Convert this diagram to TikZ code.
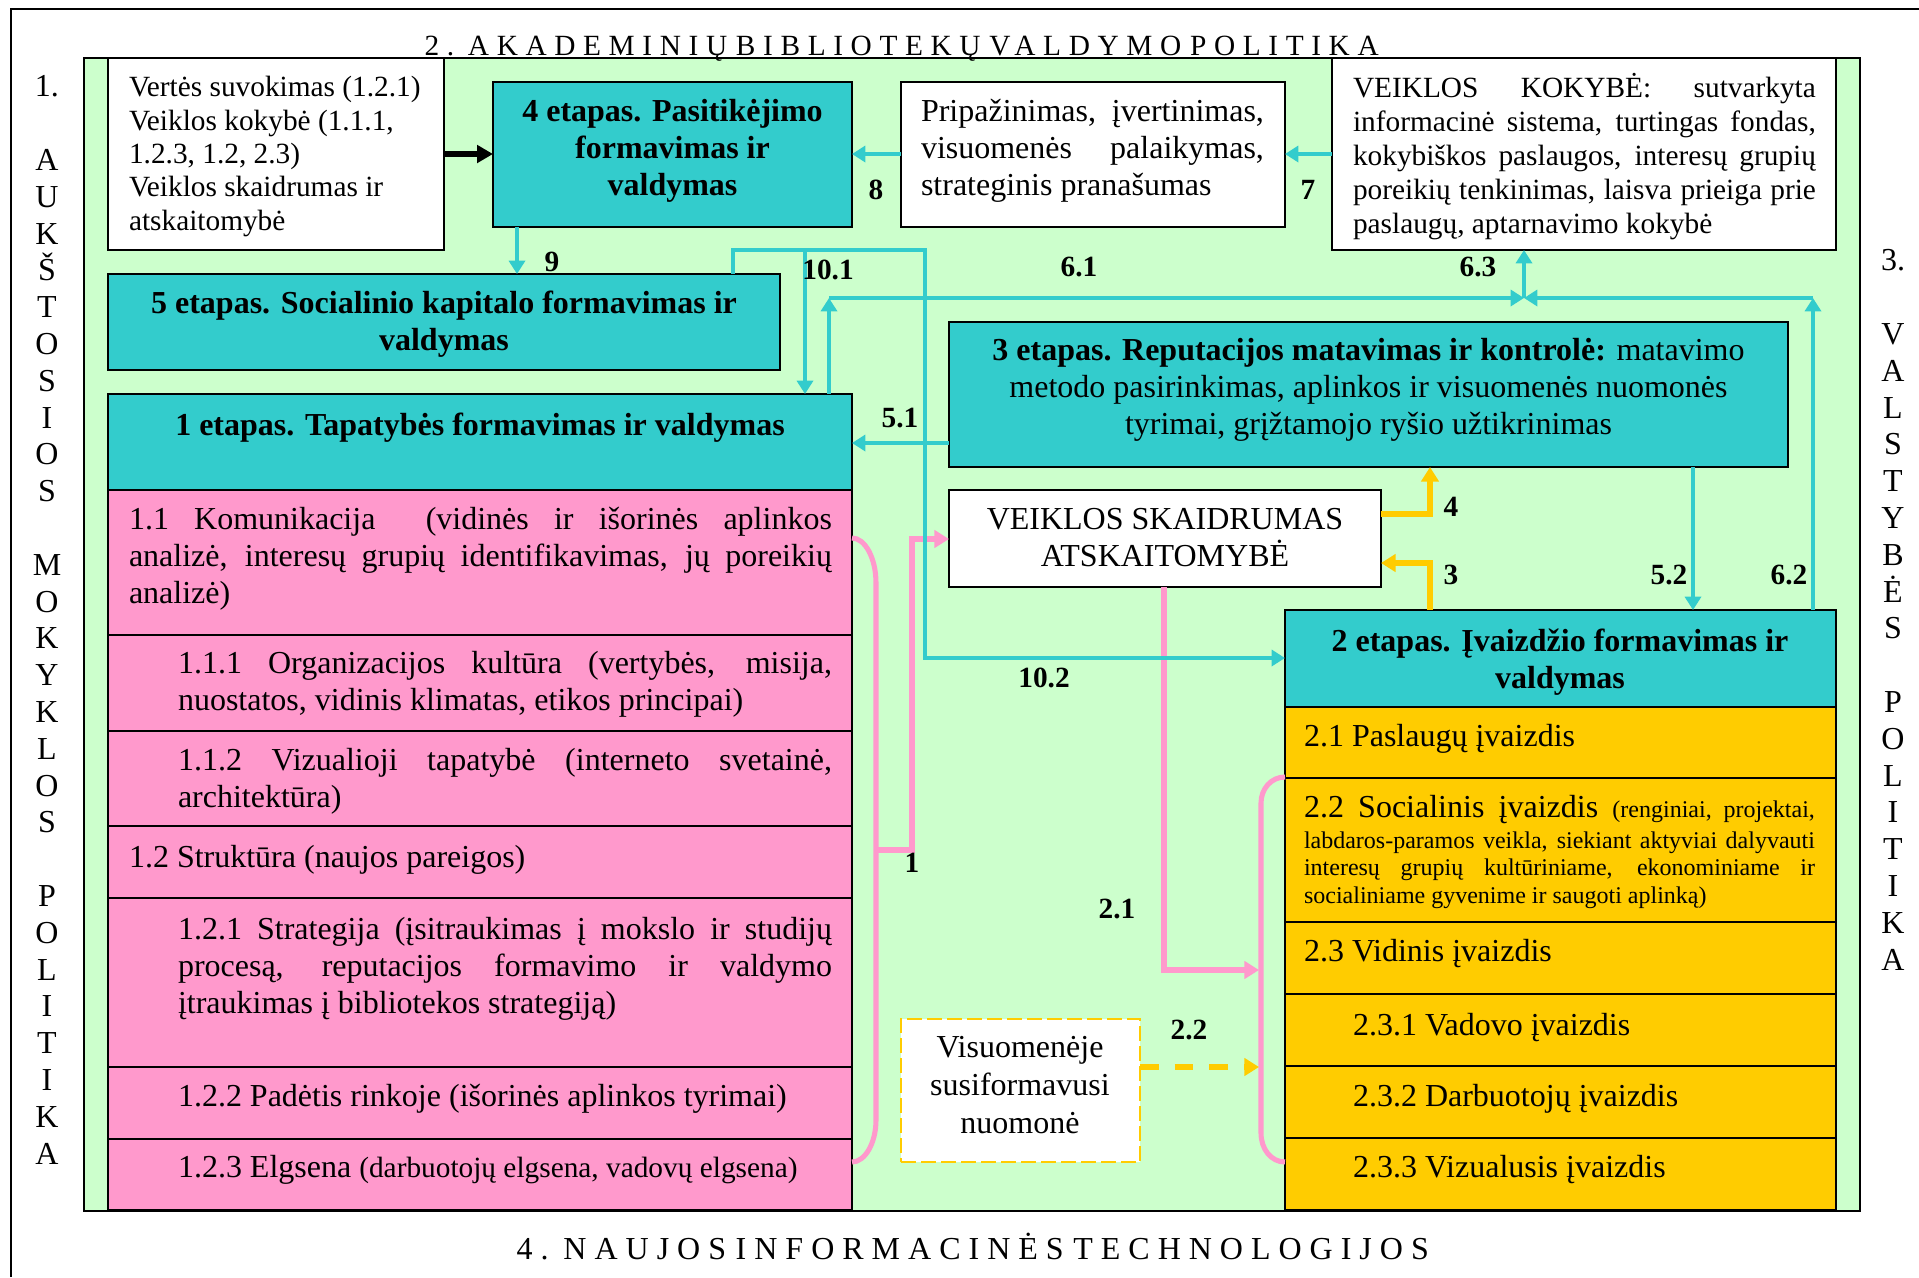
\documentclass[tikz,border=0pt]{standalone}
\usepackage{fontspec}
\setmainfont{Liberation Serif}
\newfontfamily\topspaced[LetterSpace=26]{Liberation Serif}
\newfontfamily\bottomspaced[LetterSpace=25]{Liberation Serif}
\usetikzlibrary{arrows.meta,fit}

\definecolor{bggreen}{HTML}{CCFFCC}
\definecolor{stagecyan}{HTML}{33CCCC}
\definecolor{rowpink}{HTML}{FF99CC}
\definecolor{rowgold}{HTML}{FFCC00}

\newcommand\ftxii{\fontsize{12}{13.76}\selectfont}
\newcommand\ftxi{\fontsize{11}{12.5}\selectfont}
\newcommand\ftix{\fontsize{9}{10.3}\selectfont}
% one justified line of a given width
\newcommand\fillline[2]{\makebox[#1][s]{#2}}

\begin{document}
% multi-line texts are placed by the baseline of their last line
\begin{tikzpicture}[
  x=0.375pt, y=-0.375pt,
  panel/.style={inner sep=0pt, outer sep=0pt, draw=black, line width=0.9pt},
  whitebox/.style={panel, fill=white},
  stagebox/.style={panel, fill=stagecyan},
  pinkrow/.style={panel, fill=rowpink},
  goldrow/.style={panel, fill=rowgold},
  txt/.style={inner sep=0pt, outer sep=0pt, font=\ftxii},
  txtl/.style={txt, anchor=base west, align=left},
  txtc/.style={txt, anchor=base, align=center},
  numlabel/.style={inner sep=0pt, font=\ftxi\bfseries},
  tealarrow/.style={draw=stagecyan, line width=1.8pt, -{Triangle[length=5pt,width=6pt]}},
  pinkarrow/.style={draw=rowpink, line width=1.9pt, -{Triangle[length=5.5pt,width=6.5pt]}},
  pinkline/.style={draw=rowpink, line width=1.9pt},
  goldarrow/.style={draw=rowgold, line width=1.9pt, -{Triangle[length=5.5pt,width=6.5pt]}},
  blackarrow/.style={draw=black, line width=2.2pt, -{Triangle[length=6pt,width=6.5pt]}},
]
\useasboundingbox (0,0) rectangle (1919,1277);

% outer frame
\draw[line width=0.8pt] (11,1277) -- (11,9) -- (1919,9);

% green field
\node[fit={(84,58) (1860,1211)}, panel, line width=0.7pt, fill=bggreen] (field) {};

% titles around the field
\node[inner sep=0pt, anchor=base west] (titletop) at (424,55)
  {\topspaced\fontsize{11}{13}\selectfont\spaceskip=0.3em\relax 2. AKADEMINIŲ BIBLIOTEKŲ VALDYMO POLITIKA};
\node[inner sep=0pt, anchor=base west] (titlebottom) at (516,1259)
  {\bottomspaced\fontsize{12}{14}\selectfont\spaceskip=0.3em\relax 4. NAUJOS INFORMACINĖS TECHNOLOGIJOS};
\node[inner sep=0pt, anchor=base, align=center, font=\fontsize{12}{13.8}\selectfont] (leftcol) at (47,1164)
  {1.\\\mbox{}\\A\\U\\K\\Š\\T\\O\\S\\I\\O\\S\\\mbox{}\\M\\O\\K\\Y\\K\\L\\O\\S\\\mbox{}\\P\\O\\L\\I\\T\\I\\K\\A};
\node[inner sep=0pt, anchor=base, align=center, font=\fontsize{12}{13.8}\selectfont] (rightcol) at (1893,970)
  {3.\\\mbox{}\\V\\A\\L\\S\\T\\Y\\B\\Ė\\S\\\mbox{}\\P\\O\\L\\I\\T\\I\\K\\A};

% boxes
\node[fit={(108,58) (444,250)}, whitebox] (vals) {};
\node[fit={(493,82) (852,227)}, stagebox] (trust) {};
\node[fit={(901,82) (1285,227)}, whitebox] (recog) {};
\node[fit={(1332,58) (1836,250)}, whitebox] (quality) {};
\node[fit={(108,274) (780,370)}, stagebox] (social) {};
\node[fit={(108,394) (852,490)}, stagebox] (identity) {};
\node[fit={(108,490) (852,635)}, pinkrow] (row11) {};
\node[fit={(108,635) (852,731)}, pinkrow] (row111) {};
\node[fit={(108,731) (852,826)}, pinkrow] (row112) {};
\node[fit={(108,826) (852,898)}, pinkrow] (row12) {};
\node[fit={(108,898) (852,1067)}, pinkrow] (row121) {};
\node[fit={(108,1067) (852,1139)}, pinkrow] (row122) {};
\node[fit={(108,1139) (852,1210)}, pinkrow] (row123) {};
\node[fit={(949,322) (1788,467)}, stagebox] (reput) {};
\node[fit={(949,490) (1381,587)}, whitebox] (transp) {};
\node[fit={(1285,610) (1836,707)}, stagebox] (image) {};
\node[fit={(1285,707) (1836,778)}, goldrow] (row21) {};
\node[fit={(1285,778) (1836,922)}, goldrow] (row22) {};
\node[fit={(1285,922) (1836,994)}, goldrow] (row23) {};
\node[fit={(1285,994) (1836,1066)}, goldrow] (row231) {};
\node[fit={(1285,1066) (1836,1138)}, goldrow] (row232) {};
\node[fit={(1285,1138) (1836,1210)}, goldrow] (row233) {};
\node[fit={(901,1019) (1140,1162)}, inner sep=0pt, outer sep=0pt, fill=white,
  draw=rowgold, line width=0.75pt, dash pattern=on 5.6pt off 1.9pt] (opinion) {};

% pink brackets and links
\draw[pinkline] (row11.east |- 0,538) .. controls (865,538) and (876,558) .. (876,583)
  -- (876,1120) .. controls (876,1143) and (865,1162) .. (row123.east |- 0,1162);
\draw[pinkline] (row22.west |- 0,777) .. controls (1271,777) and (1261,789) .. (1261,803)
  -- (1261,1133) .. controls (1261,1149) and (1271,1162) .. (row233.west |- 0,1162);
\coordinate (out1) at (876,850);
\coordinate (knee1) at (912,539);
\draw[pinkarrow] (out1) -| (knee1) -- (transp.west |- knee1);
\coordinate (in21) at (1259,970);
\draw[pinkarrow] (transp.south -| 1164,0) |- (in21);

% gold links
\draw[goldarrow] (transp.east |- 0,514) -| (reput.south -| 1430,0);
\draw[goldarrow] (image.north -| 1430,0) |- (transp.east |- 0,563);
\coordinate (in22) at (1259,1067);
\draw[goldarrow, dash pattern=on 7pt off 6pt] (opinion.east |- in22) -- (in22);

% black link
\draw[blackarrow] (vals.east |- 0,154) -- (trust.west |- 0,154);

% cyan links
\draw[tealarrow] (recog.west |- 0,154) -- (trust.east |- 0,154);
\draw[tealarrow] (quality.west |- 0,154) -- (recog.east |- 0,154);
\draw[tealarrow] (trust.south -| 517,0) -- (social.north -| 517,0);
\coordinate (fork10) at (805,250);
\coordinate (turn10) at (925,250);
\draw[tealarrow] (social.north -| 733,0) |- (turn10) |- (image.west |- 0,658);
\draw[tealarrow] (fork10) -- (identity.north -| fork10);
\coordinate (up61) at (829,298);
\coordinate (up62) at (1813,298);
\coordinate (hub63) at (1524,298);
\draw[tealarrow] (identity.north -| up61) -- (up61);
\draw[tealarrow] (up61) -- (hub63);
\draw[tealarrow] (image.north -| up62) -- (up62);
\draw[tealarrow] (up62) -- (hub63);
\draw[tealarrow] (hub63) -- (quality.south -| hub63);
\draw[tealarrow] (reput.west |- 0,443) -- (identity.east |- 0,443);
\draw[tealarrow] (reput.south -| 1693,0) -- (image.north -| 1693,0);

% box texts
\node[txtl, font=\fontsize{11}{12.5}\selectfont] (tvals) at (129,230)
  {Vertės suvokimas (1.2.1)\\Veiklos kokybė (1.1.1,\\1.2.3, 1.2, 2.3)\\Veiklos skaidrumas ir\\atskaitomybė};
\node[txtc, font=\ftxii\bfseries] (ttrust) at (672.5,195)
  {4 etapas. Pasitikėjimo\\formavimas ir\\valdymas};
\node[txtl] (trecog) at (921,195)
  {\fillline{128.6pt}{Pripažinimas, įvertinimas,}\\
   \fillline{128.6pt}{visuomenės palaikymas,}\\
   strateginis pranašumas};
\node[txtl, font=\fontsize{11}{12.75}\selectfont] (tquality) at (1353,233)
  {\fillline{173.6pt}{VEIKLOS KOKYBĖ: sutvarkyta}\\
   \fillline{173.6pt}{informacinė sistema, turtingas fondas,}\\
   \fillline{173.6pt}{kokybiškos paslaugos, interesų grupių}\\
   \fillline{173.6pt}{poreikių tenkinimas, laisva prieiga prie}\\
   paslaugų, aptarnavimo kokybė};
\node[txtc, font=\ftxii\bfseries] (tsocial) at (444,350)
  {5 etapas. Socialinio kapitalo formavimas ir\\valdymas};
\node[txtc, font=\ftxii\bfseries] (tidentity) at (480,435)
  {1 etapas. Tapatybės formavimas ir valdymas};
\node[txtl] (t11) at (129,603)
  {\fillline{263.6pt}{1.1 Komunikacija~ (vidinės ir išorinės aplinkos}\\
   \fillline{263.6pt}{analizė, interesų grupių identifikavimas, jų poreikių}\\
   analizė)};
\node[txtl] (t111) at (178,710)
  {\fillline{245.25pt}{1.1.1 Organizacijos kultūra (vertybės, misija,}\\
   nuostatos, vidinis klimatas, etikos principai)};
\node[txtl] (t112) at (178,807)
  {\fillline{245.25pt}{1.1.2 Vizualioji tapatybė (interneto svetainė,}\\
   architektūra)};
\node[txtl] (t12) at (129,867) {1.2 Struktūra (naujos pareigos)};
\node[txtl] (t121) at (178,1013)
  {\fillline{245.25pt}{1.2.1 Strategija (įsitraukimas į mokslo ir studijų}\\
   \fillline{245.25pt}{procesą, reputacijos formavimo ir valdymo}\\
   įtraukimas į bibliotekos strategiją)};
\node[txtl] (t122) at (178,1106) {1.2.2 Padėtis rinkoje (išorinės aplinkos tyrimai)};
\node[txtl] (t123) at (178,1177) {1.2.3 Elgsena {\ftxi(darbuotojų elgsena, vadovų elgsena)}};
\node[txtc] (treput) at (1368.5,434)
  {\textbf{3 etapas. Reputacijos matavimas ir kontrolė:} matavimo\\
   metodo pasirinkimas, aplinkos ir visuomenės nuomonės\\
   tyrimai, grįžtamojo ryšio užtikrinimas};
\node[txtc] (ttransp) at (1165,566) {VEIKLOS SKAIDRUMAS\\ATSKAITOMYBĖ};
\node[txtc, font=\ftxii\bfseries] (timage) at (1560,688)
  {2 etapas. Įvaizdžio formavimas ir\\valdymas};
\node[txtl] (t21) at (1304,746) {2.1 Paslaugų įvaizdis};
\node[txtl] (t22a) at (1304,817)
  {\fillline{191.6pt}{2.2 Socialinis įvaizdis {\ftix(renginiai, projektai,}}};
\node[txtl, font=\ftix] (t22b) at (1304,903)
  {\fillline{191.6pt}{labdaros-paramos veikla, siekiant aktyviai dalyvauti}\\
   \fillline{191.6pt}{interesų grupių kultūriniame, ekonominiame ir}\\
   socialiniame gyvenime ir saugoti aplinką)};
\node[txtl] (t23) at (1304,961) {2.3 Vidinis įvaizdis};
\node[txtl] (t231) at (1353,1035) {2.3.1 Vadovo įvaizdis};
\node[txtl] (t232) at (1353,1106) {2.3.2 Darbuotojų įvaizdis};
\node[txtl] (t233) at (1353,1177) {2.3.3 Vizualusis įvaizdis};
\node[txtc, font=\fontsize{12}{14.2}\selectfont] (topinion) at (1020,1133)
  {Visuomenėje\\susiformavusi\\nuomonė};

% link numbers
\node[numlabel] (n9) at (552,262) {9};
\node[numlabel] (n8) at (876,190) {8};
\node[numlabel] (n7) at (1308,190) {7};
\node[numlabel] (n101) at (828,270) {10.1};
\node[numlabel] (n61) at (1079,267) {6.1};
\node[numlabel] (n63) at (1478,267) {6.3};
\node[numlabel] (n51) at (900,418) {5.1};
\node[numlabel] (n4) at (1451,507) {4};
\node[numlabel] (n3) at (1451,575) {3};
\node[numlabel] (n52) at (1669,575) {5.2};
\node[numlabel] (n62) at (1789,575) {6.2};
\node[numlabel] (n102) at (1044,678) {10.2};
\node[numlabel] (n1) at (912,863) {1};
\node[numlabel] (n21) at (1117,909) {2.1};
\node[numlabel] (n22) at (1189,1030) {2.2};
\end{tikzpicture}
\end{document}
